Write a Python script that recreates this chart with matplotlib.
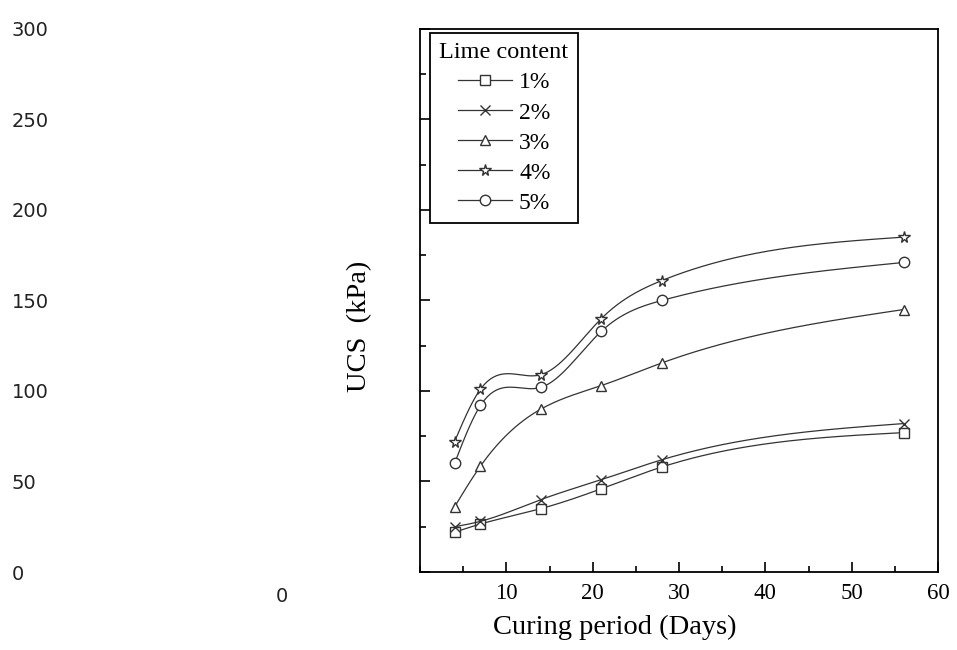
import numpy as np
import matplotlib
matplotlib.use("Agg")
import matplotlib.pyplot as plt
from matplotlib.ticker import MultipleLocator


days = [4, 7, 14, 21, 28, 56]
ucs_1 = [22, 26.5, 35, 46, 58, 77]
ucs_2 = [25, 28, 40, 51, 62, 82]
ucs_3 = [36, 58.5, 90, 103, 115.5, 145]
ucs_4 = [72, 101, 109, 140, 161, 185]
ucs_5 = [60, 92, 102, 133, 150, 171]

labels = ["1%", "2%", "3%", "4%", "5%"]
markers = ["s", "x", "^", "*", "o"]
yticks = [0, 50, 100, 150, 200, 250, 300]
xticks = [10, 20, 30, 40, 50, 60]


def smooth(x, y, n=300):
    # natural cubic spline through the points
    x = np.asarray(x, float)
    y = np.asarray(y, float)
    k = len(x)
    h = np.diff(x)
    A = np.zeros((k, k))
    b = np.zeros(k)
    A[0, 0] = A[-1, -1] = 1
    for i in range(1, k - 1):
        A[i, i - 1] = h[i - 1]
        A[i, i] = 2 * (h[i - 1] + h[i])
        A[i, i + 1] = h[i]
        b[i] = 6 * ((y[i + 1] - y[i]) / h[i] - (y[i] - y[i - 1]) / h[i - 1])
    M = np.linalg.solve(A, b)
    xs = np.linspace(x[0], x[-1], n)
    idx = np.clip(np.searchsorted(x, xs) - 1, 0, k - 2)
    x0, x1 = x[idx], x[idx + 1]
    hh = x1 - x0
    t0, t1 = x1 - xs, xs - x0
    ys = (M[idx] * t0 ** 3 + M[idx + 1] * t1 ** 3) / (6 * hh) \
        + (y[idx] / hh - M[idx] * hh / 6) * t0 \
        + (y[idx + 1] / hh - M[idx + 1] * hh / 6) * t1
    return xs, ys


plt.rcParams["font.family"] = ["Liberation Serif", "DejaVu Serif"]

fig = plt.figure(figsize=(9.57, 6.5), dpi=100)
ax = fig.add_axes([0.4389, 0.12, 0.5413, 0.8354])

col = "#333333"
series = [ucs_1, ucs_2, ucs_3, ucs_4, ucs_5]
for vals, lab, m in zip(series, labels, markers):
    xs, ys = smooth(days, vals)
    ax.plot(xs, ys, color=col, lw=0.9)
    ax.plot(days, vals, ls="none", marker=m, ms=8.5 if m == "*" else 7.5,
            mfc="white", mec=col, mew=1.0)
    # proxy for the legend
    ax.plot([], [], color=col, lw=0.9, marker=m, ms=8.5 if m == "*" else 7.5,
            mfc="white", mec=col, mew=1.0, label=lab)

ax.set_xlim(0, 60)
ax.set_ylim(0, 300)
ax.set_xticks(xticks)
ax.xaxis.set_minor_locator(MultipleLocator(5))
ax.set_yticks(yticks)
ax.yaxis.set_minor_locator(MultipleLocator(25))

ax.tick_params(which="both", direction="in", top=False, right=False, width=1.2)
ax.tick_params(which="major", length=7)
ax.tick_params(which="minor", length=4)
ax.tick_params(axis="x", labelsize=16.5, pad=8)
ax.tick_params(axis="y", labelsize=14, pad=294)
plt.setp(ax.get_yticklabels(), ha="left", family="DejaVu Sans", color="#222222")

for sp in ax.spines.values():
    sp.set_linewidth(1.3)

# stray zero label under the plot, left of the axes
fig.text(282 / 957, (650 - 597) / 650, "0", ha="center", va="center",
         family="DejaVu Sans", fontsize=14, color="#222222")

ax.set_xlabel("Curing period (Days)", fontsize=20.5)
ax.xaxis.set_label_coords(0.376, -0.079)
ax.set_ylabel("UCS  (kPa)", fontsize=20.5)
ax.yaxis.set_label_coords(-0.093, 0.453)

leg = ax.legend(title="Lime content", loc="upper left",
                bbox_to_anchor=(0.0193, 0.9926), borderaxespad=0,
                fontsize=17, title_fontsize=17.5, fancybox=False,
                edgecolor="black", framealpha=1, handlelength=2.3,
                handletextpad=0.3, labelspacing=0.36, borderpad=0.4)
leg.get_frame().set_linewidth(1.3)

fig.savefig("out.png", dpi=100)
